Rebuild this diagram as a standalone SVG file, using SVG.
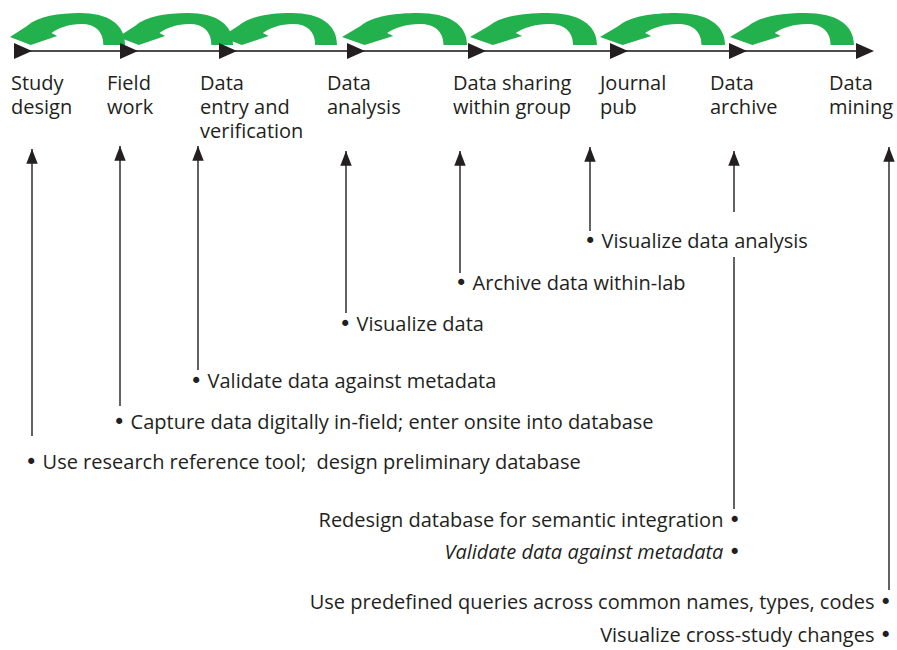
<svg xmlns="http://www.w3.org/2000/svg" width="897" height="650" viewBox="0 0 897 650">
<style>
text{font-family:"Open Sans","Noto Sans","Liberation Sans",sans-serif;font-size:20px;fill:#231f20}
.it{font-style:italic}
.end{text-anchor:end}
.b{font-family:"DejaVu Sans",sans-serif;font-size:21px;font-style:normal}
.vl{stroke:#231f20;stroke-width:1.4;fill:none}
.tri{fill:#231f20}
.grn{fill:#23b14d}
</style>
<defs>
<marker id="ah" markerUnits="userSpaceOnUse" markerWidth="16" markerHeight="12" refX="13" refY="5" orient="auto" viewBox="0 0 14 10">
<path d="M0,0 L13,5 L0,10 Z" fill="#231f20"/>
</marker>
<path id="ga" d="M0,37 L18,26 C30,16 52,13 74,13 C104,13 122,24 122,45 L99,45 C99,31 90,24 76,24 C62,24 51,28 44,33 L50,36 L22,45 Z"/>
</defs>
<g id="cycle-arrows" class="grn">
<use href="#ga" transform="translate(10,0) scale(0.943,1)"/>
<use href="#ga" transform="translate(118,0) scale(0.943,1)"/>
<use href="#ga" transform="translate(221,0) scale(0.951,1)"/>
<use href="#ga" transform="translate(342,0) scale(1.025,1)"/>
<use href="#ga" transform="translate(470,0) scale(1.041,1)"/>
<use href="#ga" transform="translate(600,0) scale(1.025,1)"/>
<use href="#ga" transform="translate(730,0) scale(1.016,1)"/>
</g>
<g id="timeline">
<line x1="14" y1="51" x2="862" y2="51" stroke="#4d4d4f" stroke-width="2"/>
<polygon class="tri" points="14,43 32,51 14,59"/>
<polygon class="tri" points="120,43 138,51 120,59"/>
<polygon class="tri" points="219,43 237,51 219,59"/>
<polygon class="tri" points="347,43 365,51 347,59"/>
<polygon class="tri" points="468,43 486,51 468,59"/>
<polygon class="tri" points="610,43 628,51 610,59"/>
<polygon class="tri" points="729,43 747,51 729,59"/>
<polygon class="tri" points="856,43 874,51 856,59"/>
</g>
<g id="stage-study"><text x="11" y="90">Study<tspan x="11" dy="24">design</tspan></text></g>
<g id="stage-field"><text x="107" y="90">Field<tspan x="107" dy="24">work</tspan></text></g>
<g id="stage-entry"><text x="200" y="90">Data<tspan x="200" dy="24">entry and</tspan><tspan x="200" dy="24">verification</tspan></text></g>
<g id="stage-analysis"><text x="327" y="90">Data<tspan x="327" dy="24">analysis</tspan></text></g>
<g id="stage-sharing"><text x="453" y="90">Data sharing<tspan x="453" dy="24">within group</tspan></text></g>
<g id="stage-journal"><text x="600" y="90">Journal<tspan x="600" dy="24">pub</tspan></text></g>
<g id="stage-archive"><text x="710" y="90">Data<tspan x="710" dy="24">archive</tspan></text></g>
<g id="stage-mining"><text x="829" y="90">Data<tspan x="829" dy="24">mining</tspan></text></g>
<g id="connectors">
<line class="vl" x1="32" y1="436" x2="32" y2="149" marker-end="url(#ah)"/>
<line class="vl" x1="120" y1="406" x2="120" y2="146" marker-end="url(#ah)"/>
<line class="vl" x1="198" y1="370" x2="198" y2="146" marker-end="url(#ah)"/>
<line class="vl" x1="346" y1="313" x2="346" y2="151" marker-end="url(#ah)"/>
<line class="vl" x1="460" y1="273" x2="460" y2="151" marker-end="url(#ah)"/>
<line class="vl" x1="590" y1="231" x2="590" y2="147" marker-end="url(#ah)"/>
<line class="vl" x1="734" y1="212" x2="734" y2="151" marker-end="url(#ah)"/>
<line class="vl" x1="734" y1="257" x2="734" y2="509"/>
<line class="vl" x1="889" y1="590" x2="889" y2="147" marker-end="url(#ah)"/>
</g>
<g id="notes">
<text x="584" y="248"><tspan class="b">•</tspan> Visualize data analysis</text>
<text x="455" y="290"><tspan class="b">•</tspan> Archive data within-lab</text>
<text x="339" y="331"><tspan class="b">•</tspan> Visualize data</text>
<text x="190" y="388"><tspan class="b">•</tspan> Validate data against metadata</text>
<text x="113" y="429"><tspan class="b">•</tspan> Capture data digitally in-field; enter onsite into database</text>
<text x="25" y="469" xml:space="preserve"><tspan class="b">•</tspan> Use research reference tool;  design preliminary database</text>
<text class="end" x="741" y="527">Redesign database for semantic integration <tspan class="b">•</tspan></text>
<text class="end it" x="741" y="559">Validate data against metadata <tspan class="b">•</tspan></text>
<text class="end" x="892" y="609">Use predefined queries across common names, types, codes <tspan class="b">•</tspan></text>
<text class="end" x="892" y="642">Visualize cross-study changes <tspan class="b">•</tspan></text>
</g>
</svg>
